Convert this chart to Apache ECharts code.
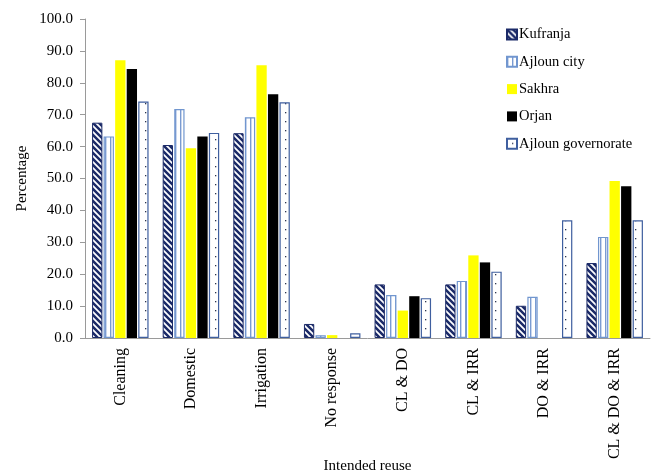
<!DOCTYPE html>
<html>
<head>
<meta charset="utf-8">
<script src="https://cdn.jsdelivr.net/npm/echarts@6/dist/echarts.min.js"></script>
<style>
  html, body { margin: 0; padding: 0; background: #ffffff; }
  #chart { width: 651px; height: 476px; }
</style>
</head>
<body>
<div id="chart"></div>
<script>
// Intended reuse categories and percentage of respondents per area
const categories = ['Cleaning', 'Domestic', 'Irrigation', 'No response', 'CL & DO', 'CL & IRR', 'DO & IRR', 'CL & DO & IRR'];
const kufranja   = [67.5, 60.5, 64.2, 4.4, 16.8, 16.8, 10.1, 23.5];
const ajlounCity = [63.2, 71.8, 69.2, 0.9, 13.5, 17.9, 12.9, 31.7];
const sakhra     = [87.1, 59.5, 85.5, 0.9, 8.6, 25.9, 0, 49.2];
const orjan      = [84.3, 63.2, 76.4, 0, 13.1, 23.7, 0, 47.6];
const ajlounGov  = [74.1, 64.3, 73.9, 1.5, 12.5, 20.8, 36.9, 36.9];
const seriesNames = ['Kufranja', 'Ajloun city', 'Sakhra', 'Orjan', 'Ajloun governorate'];

const FONT = '"Liberation Serif", "DejaVu Serif", serif';

// Fill patterns for the hatched bars
function makeTile(w, h, draw) {
  const c = document.createElement('canvas');
  c.width = w; c.height = h;
  const ctx = c.getContext('2d');
  ctx.fillStyle = '#ffffff';
  ctx.fillRect(0, 0, w, h);
  draw(ctx);
  return { image: c, repeat: 'repeat' };
}
const diagonal = makeTile(6, 6, ctx => {
  ctx.strokeStyle = '#1b2a68';
  ctx.lineWidth = 2.5;
  ctx.beginPath();
  ctx.moveTo(-1, -1); ctx.lineTo(7, 7);
  ctx.moveTo(-4, 2); ctx.lineTo(4, 10);
  ctx.moveTo(2, -4); ctx.lineTo(10, 4);
  ctx.stroke();
});
const vertical = makeTile(5, 4, ctx => {
  ctx.fillStyle = '#7a9bd2';
  ctx.fillRect(0, 0, 1.4, 4);
});
const dotted = makeTile(10, 9, ctx => {
  ctx.fillStyle = '#2b3550';
  ctx.fillRect(5, 4, 1.3, 1.3);
});

const styles = [
  { color: diagonal, borderColor: '#1b2a68', borderWidth: 1 },
  { color: vertical, borderColor: '#7196cf', borderWidth: 1.2 },
  { color: '#ffff00' },
  { color: '#000000' },
  { color: dotted, borderColor: '#3f5f9f', borderWidth: 1.2 }
];
const values = [kufranja, ajlounCity, sakhra, orjan, ajlounGov];

const chart = echarts.init(document.getElementById('chart'), null, { renderer: 'canvas' });
chart.setOption({
  backgroundColor: '#ffffff',
  animation: false,
  textStyle: { fontFamily: FONT, color: '#000' },
  grid: { left: 85, right: 1, top: 19, bottom: 138, containLabel: false, outerBoundsMode: 'none' },
  legend: {
    orient: 'vertical',
    left: 501,
    top: 22,
    itemWidth: 10,
    itemHeight: 10,
    itemGap: 12.3,
    icon: 'rect',
    textStyle: { fontFamily: FONT, fontSize: 14.5, color: '#000', padding: [0, 0, 0, -3] },
    data: seriesNames
  },
  xAxis: {
    type: 'category',
    data: categories,
    name: 'Intended reuse',
    nameLocation: 'middle',
    nameGap: 121,
    nameMoveOverlap: false,
    nameTextStyle: { fontFamily: FONT, fontSize: 15, color: '#000' },
    axisLine: { lineStyle: { color: '#9a9a9a', width: 1 } },
    axisTick: { show: false },
    axisLabel: { rotate: 90, margin: 10, fontFamily: FONT, fontSize: 16, color: '#000' }
  },
  yAxis: {
    type: 'value',
    min: 0,
    max: 100,
    interval: 10,
    name: 'Percentage',
    nameLocation: 'middle',
    nameGap: 55,
    nameMoveOverlap: false,
    nameTextStyle: { fontFamily: FONT, fontSize: 15, color: '#000' },
    splitLine: { show: false },
    axisLine: { show: true, lineStyle: { color: '#9a9a9a', width: 1 } },
    axisTick: { show: true, length: 5, lineStyle: { color: '#9a9a9a' } },
    axisLabel: { margin: 12, fontFamily: FONT, fontSize: 15, color: '#000',
      formatter: v => v.toFixed(1) }
  },
  series: seriesNames.map((name, i) => ({
    name,
    type: 'bar',
    data: values[i],
    barGap: '12%',
    barCategoryGap: '20%',
    itemStyle: styles[i]
  }))
});
</script>
</body>
</html>
